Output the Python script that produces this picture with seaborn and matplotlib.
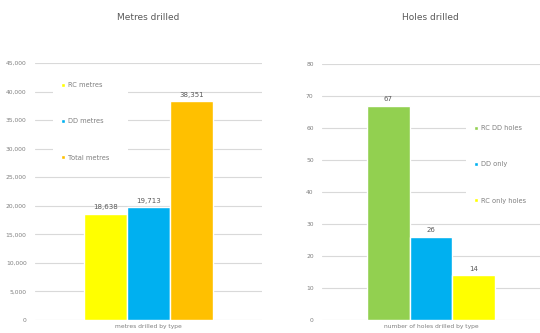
import matplotlib
matplotlib.use("Agg")
import matplotlib.pyplot as plt
import seaborn as sns
import pandas as pd

# --- data ---
metres_category = ["metres drilled by type"]
metres_series = ["RC metres", "DD metres", "Total metres"]
metres_values = [18638, 19713, 38351]
metres_colors = ["#FFFF00", "#00B0F0", "#FFC000"]

holes_category = ["number of holes drilled by type"]
holes_series = ["RC DD holes", "DD only", "RC only holes"]
holes_values = [67, 26, 14]
holes_colors = ["#92D050", "#00B0F0", "#FFFF00"]

sns.set_theme(style="white")
plt.rcParams['font.family'] = ['DejaVu Sans']

W, H = 540, 333
fig = plt.figure(figsize=(W / 100, H / 100), dpi=100)
fig.patch.set_facecolor("white")

txt = "#7F7F7F"
grid = "#D9D9D9"


def panel(rect, cat, series, values, colors, ymax, ystep, fmt, title, title_x, halfw, leg_box):
    ax = fig.add_axes(rect)
    df = pd.DataFrame({"cat": cat * len(series), "series": series, "value": values})
    sns.barplot(data=df, x="cat", y="value", hue="series", hue_order=series,
                palette=colors, ax=ax, width=0.8, saturation=1, legend=True)
    ax.set_ylim(0, ymax)
    ax.set_xlim(-halfw, halfw)
    ax.set_yticks(range(0, ymax + 1, ystep))
    ax.set_yticklabels([fmt.format(v) for v in range(0, ymax + 1, ystep)])
    ax.yaxis.grid(True, color=grid, linewidth=0.8)
    ax.set_axisbelow(True)
    for s in ax.spines.values():
        s.set_visible(False)
    ax.tick_params(axis="both", length=0, labelsize=4.3, colors=txt, pad=3)
    ax.tick_params(axis="y", pad=6)
    ax.set_xlabel("")
    ax.set_ylabel("")
    for c in ax.containers:
        ax.bar_label(c, labels=[fmt.format(v) for v in c.datavalues],
                     fontsize=5, color="#595959", padding=2.5)
    handles, labels = ax.get_legend_handles_labels()
    x0, top, w, h = leg_box
    leg = ax.legend(handles, labels, loc="upper left", mode="expand",
                    bbox_to_anchor=(x0 / W, 1 - (top + h) / H, w / W, h / H),
                    bbox_transform=fig.transFigure, frameon=True, facecolor="white",
                    edgecolor="none", framealpha=1, fontsize=4.8, labelcolor=txt,
                    handlelength=0.6, handleheight=0.6, handletextpad=0.4,
                    labelspacing=4.55, borderpad=1.2, borderaxespad=0)
    leg.set_zorder(10)
    fig.text(title_x / W, 1 - 17 / H, title, ha="center", va="center",
             fontsize=6.5, color="#595959")
    return ax


panel([35 / W, 13 / H, 227 / W, 257 / H], metres_category, metres_series,
      metres_values, metres_colors, 45000, 5000, "{:,.0f}", "Metres drilled",
      148, 0.704, (53, 74, 75, 100))

panel([322 / W, 13 / H, 218 / W, 256 / H], holes_category, holes_series,
      holes_values, holes_colors, 80, 10, "{:.0f}", "Holes drilled",
      430, 0.676, (466, 117, 74, 100))

fig.savefig("out.png", dpi=100, facecolor="white")
